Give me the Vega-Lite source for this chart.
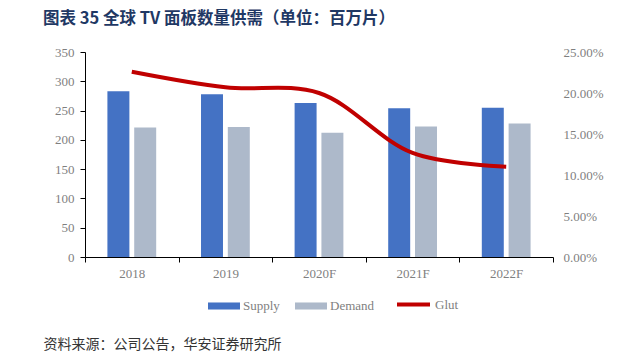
{
  "$schema": "https://vega.github.io/schema/vega-lite/v6.json",
  "width": 468,
  "height": 205,
  "autosize": {"type": "none"},
  "padding": {"left": 85, "top": 52, "right": 87, "bottom": 106},
  "background": "white",
  "config": {"view": {"stroke": null}},
  "title": {
    "text": "图表 35 全球 TV 面板数量供需（单位：百万片）",
    "anchor": "start",
    "frame": "group",
    "dx": -42,
    "dy": -15,
    "font": "Noto Sans CJK SC",
    "fontSize": 16.5,
    "fontWeight": "bold",
    "color": "#1F3864"
  },
  "datasets": {
    "bars": [
      {"year": "2018", "series": "Supply", "value": 283},
      {"year": "2018", "series": "Demand", "value": 221},
      {"year": "2019", "series": "Supply", "value": 278},
      {"year": "2019", "series": "Demand", "value": 222},
      {"year": "2020F", "series": "Supply", "value": 263},
      {"year": "2020F", "series": "Demand", "value": 212},
      {"year": "2021F", "series": "Supply", "value": 254},
      {"year": "2021F", "series": "Demand", "value": 223},
      {"year": "2022F", "series": "Supply", "value": 255},
      {"year": "2022F", "series": "Demand", "value": 228}
    ],
    "glut": [
      {"year": "2018", "series": "Glut", "value": 0.226},
      {"year": "2019", "series": "Glut", "value": 0.207},
      {"year": "2020F", "series": "Glut", "value": 0.2},
      {"year": "2021F", "series": "Glut", "value": 0.127},
      {"year": "2022F", "series": "Glut", "value": 0.11}
    ]
  },
  "layer": [
    {
      "data": {"name": "bars"},
      "mark": {"type": "bar"},
      "encoding": {
        "x": {
          "field": "year",
          "type": "nominal",
          "sort": null,
          "scale": {"paddingInner": 0, "paddingOuter": 0},
          "axis": {
            "title": "资料来源：公司公告，华安证券研究所",
            "titleFont": "Noto Sans CJK SC",
            "titleFontSize": 14,
            "titleFontWeight": "normal",
            "titleColor": "#333333",
            "titleAnchor": "start",
            "titleAlign": "left",
            "titleBaseline": "middle",
            "titleX": -42,
            "titleY": 87,
            "labelAngle": 0,
            "tickBand": "extent",
            "tickSize": 5,
            "tickColor": "#000000",
            "domainColor": "#000000",
            "labelFont": "Liberation Serif",
            "labelFontSize": 13,
            "labelColor": "#7F7F7F",
            "labelPadding": 5
          }
        },
        "xOffset": {
          "field": "series",
          "type": "nominal",
          "sort": ["Supply", "Demand"],
          "scale": {"domain": ["Supply", "Demand"], "paddingInner": 0.18, "paddingOuter": 0.836}
        },
        "y": {
          "field": "value",
          "type": "quantitative",
          "scale": {"domain": [0, 350]},
          "axis": {
            "title": null,
            "orient": "left",
            "values": [0, 50, 100, 150, 200, 250, 300, 350],
            "grid": false,
            "tickSize": 5,
            "tickColor": "#000000",
            "domainColor": "#000000",
            "labelFont": "Liberation Serif",
            "labelFontSize": 13,
            "labelColor": "#7F7F7F",
            "labelPadding": 6
          }
        },
        "fill": {
          "field": "series",
          "type": "nominal",
          "scale": {"domain": ["Supply", "Demand"], "range": ["#4472C4", "#ADB9CA"]},
          "legend": {
            "title": null,
            "orient": "none",
            "direction": "horizontal",
            "legendX": 123,
            "legendY": 238,
            "symbolType": "M-1,-0.22H1V0.22H-1Z",
            "symbolSize": 1024,
            "symbolStrokeWidth": 0,
            "labelFont": "Liberation Serif",
            "labelFontSize": 13,
            "labelColor": "#7F7F7F",
            "labelOffset": 3,
            "columnPadding": 15
          }
        }
      }
    },
    {
      "data": {"name": "glut"},
      "mark": {"type": "line", "interpolate": "catmull-rom", "strokeWidth": 4},
      "encoding": {
        "x": {"field": "year", "type": "nominal", "sort": null},
        "y": {
          "field": "value",
          "type": "quantitative",
          "scale": {"domain": [0, 0.25]},
          "axis": {
            "title": null,
            "orient": "right",
            "values": [0, 0.05, 0.1, 0.15, 0.2, 0.25],
            "format": ".2%",
            "grid": false,
            "domain": false,
            "ticks": false,
            "tickSize": 0,
            "labelFont": "Liberation Serif",
            "labelFontSize": 13,
            "labelColor": "#7F7F7F",
            "labelPadding": 10
          }
        },
        "stroke": {
          "field": "series",
          "type": "nominal",
          "scale": {"domain": ["Glut"], "range": ["#C00000"]},
          "legend": {
            "title": null,
            "orient": "none",
            "legendX": 310,
            "legendY": 234,
            "symbolType": "stroke",
            "symbolSize": 1089,
            "symbolStrokeWidth": 4,
            "labelFont": "Liberation Serif",
            "labelFontSize": 13,
            "labelColor": "#7F7F7F",
            "labelOffset": 3
          }
        }
      }
    }
  ],
  "resolve": {"scale": {"y": "independent"}}
}
